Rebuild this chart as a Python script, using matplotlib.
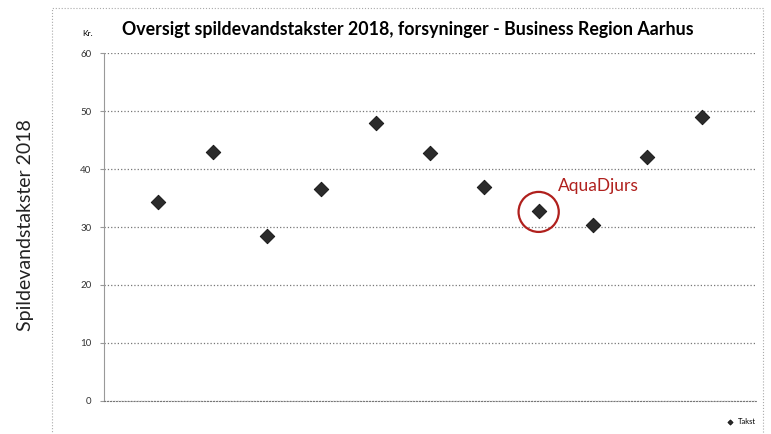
import matplotlib.pyplot as plt
from matplotlib.patches import Rectangle, Ellipse

# Takst per forsyning (kr.)
forsyninger = list(range(1, 12))
takst = [34.3, 42.9, 28.4, 36.6, 47.9, 42.8, 36.9, 32.8, 30.3, 42.1, 49.0]
yticks = [0, 10, 20, 30, 40, 50, 60]
highlight = 7  # index of AquaDjurs

plt.rcParams['font.family'] = ['Lato', 'DejaVu Sans']

fig = plt.figure(figsize=(7.71, 4.34), dpi=100)
ax = fig.add_axes([104 / 771, 33 / 434, 652 / 771, 348 / 434])

ax.scatter(forsyninger, takst, marker='D', s=55, color='#2b2b2b',
           edgecolors='#111111', linewidths=0.6, zorder=3, label='Takst')

ax.set_xlim(0, 12)
ax.set_ylim(0, 60)
ax.set_yticks(yticks)
ax.set_yticklabels([str(t) for t in yticks], fontsize=7, color='#333333')
ax.set_xticks([])
ax.grid(axis='y', linestyle=':', color='#777777', linewidth=0.9)
for s in ['top', 'right']:
    ax.spines[s].set_visible(False)
ax.spines['bottom'].set_linestyle(':')
ax.spines['bottom'].set_color('#777777')
ax.spines['left'].set_color('#999999')
ax.tick_params(axis='y', length=3, color='#999999', pad=6)

# circle + label around AquaDjurs (round in pixels: ~40 px across)
hx, hy = forsyninger[highlight], takst[highlight]
ax.add_patch(Ellipse((hx, hy - 0.2), 0.74, 6.9, fill=False, edgecolor='#b0201d',
                     linewidth=1.6, zorder=4))
ax.text(hx + 0.36, hy + 4.3, 'AquaDjurs', color='#b0201d', fontsize=12.5,
        ha='left', va='center')

fig.text(408 / 771, 1 - 30 / 434,
         'Oversigt spildevandstakster 2018, forsyninger - Business Region Aarhus',
         ha='center', va='center', fontsize=12.8, fontweight='bold')
fig.text(88 / 771, 1 - 33 / 434, 'Kr.', fontsize=6, ha='center', va='center')
fig.text(25 / 771, 1 - 225 / 434, 'Spildevandstakster 2018', rotation=90,
         fontsize=14, ha='center', va='center', color='#222222')

ax.legend(loc='lower right', bbox_to_anchor=(1.01, -0.09), frameon=False,
          fontsize=5.5, handletextpad=0.0, markerscale=0.35)

# outer chart border
fig.patches.append(Rectangle((52 / 771, -0.01), (763 - 52) / 771, 1 - 8 / 434 + 0.01,
                             transform=fig.transFigure, fill=False,
                             edgecolor='#aaaaaa', linestyle=':', linewidth=0.8))

fig.savefig('out.png', dpi=100)
